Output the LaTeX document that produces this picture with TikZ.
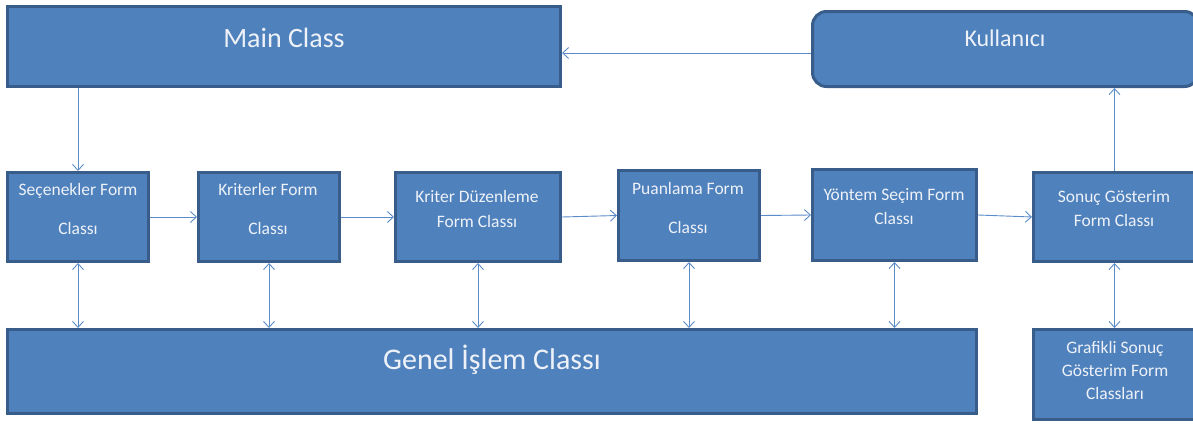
\documentclass[tikz,border=0pt]{standalone}
\usepackage{fontspec}
\setmainfont{Carlito}
\usetikzlibrary{arrows.meta}
\definecolor{boxfill}{HTML}{4F81BD}
\definecolor{boxline}{HTML}{385D8A}
\definecolor{linkcol}{HTML}{5B8BC9}
\definecolor{txtcol}{HTML}{EEF2F8}
\begin{document}
\begin{tikzpicture}[x=1pt,y=-1pt,
    classbox/.style ={rectangle, draw=boxline, fill=boxfill, line width=3pt, inner sep=0pt},
    lbl/.style ={text=txtcol, align=center, inner sep=0pt, font=\fontsize{17.5}{20}\selectfont},
    link/.style ={draw=linkcol, line width=0.9pt, >={Straight Barb[length=6pt,width=11pt]}}]
   \useasboundingbox (0,0) rectangle (1193,423);
   % boxes
   \node[classbox, minimum width=553pt, minimum height=80pt] (main) at (284,46.5) {};
   \node[classbox, rounded corners=14pt, minimum width=386pt, minimum height=75pt] (user) at (1005.5,49) {};
   \node[classbox, minimum width=141pt, minimum height=89pt] (sec) at (78,217) {};
   \node[classbox, minimum width=141pt, minimum height=89pt] (kri) at (269,217) {};
   \node[classbox, minimum width=165pt, minimum height=89pt] (kd)  at (478,217) {};
   \node[classbox, minimum width=141pt, minimum height=90pt] (pua) at (689,215.5) {};
   \node[classbox, minimum width=164pt, minimum height=91pt] (yon) at (894.5,215) {};
   \node[classbox, minimum width=162pt, minimum height=89pt] (son) at (1114.5,217) {};
   \node[classbox, minimum width=162pt, minimum height=90pt] (gra) at (1114.5,374.5) {};
   \node[classbox, minimum width=969pt, minimum height=84pt] (gen) at (492,371.5) {};
   % texts
   \node[lbl, font=\fontsize{28}{34}\selectfont] (tmain) at (284,38) {Main Class};
   \node[lbl, font=\fontsize{24}{29}\selectfont] (tuser) at (1005,38) {Kullanıcı};
   \node[lbl] (tsec) at (78,208.5) {Seçenekler Form\\[19pt]Classı};
   \node[lbl] (tkri) at (268,208.5) {Kriterler Form\\[19pt]Classı};
   \node[lbl] (tkd)  at (477,208.5) {Kriter Düzenleme\\[5pt]Form Classı};
   \node[lbl] (tpua) at (688,207.5) {Puanlama Form\\[19pt]Classı};
   \node[lbl] (tyon) at (894,207) {Yöntem Seçim Form\\[4pt]Classı};
   \node[lbl] (tson) at (1114,209) {Sonuç Gösterim\\[4pt]Form Classı};
   \node[lbl] (tgra) at (1115,370) {Grafikli Sonuç\\[3pt]Gösterim Form\\[3pt]Classları};
   \node[lbl, font=\fontsize{30}{36}\selectfont] (tgen) at (492,360) {Genel İşlem Classı};
   % links
   \draw[link, ->] ([yshift=-4pt]user.west) -- ([yshift=-4pt]user.west -| main.east);
   \draw[link, ->] (main.south -| sec) -- (sec.north);
   \draw[link, ->] (sec.east) -- (kri.west);
   \draw[link, ->] (kri.east) -- (kd.west);
   \draw[link, ->] (kd.east) -- (pua.west);
   \draw[link, ->] (pua.east) -- (yon.west);
   \draw[link, ->] (yon.east) -- (son.west);
   \draw[link, ->] (son.north) -- (son.north |- user.south);
   \foreach \b in {sec,kri,kd,pua,yon}
     \draw[link, <->] (\b.south) -- (\b.south |- gen.north);
   \draw[link, <->] (son.south) -- (gra.north);
\end{tikzpicture}
\end{document}
